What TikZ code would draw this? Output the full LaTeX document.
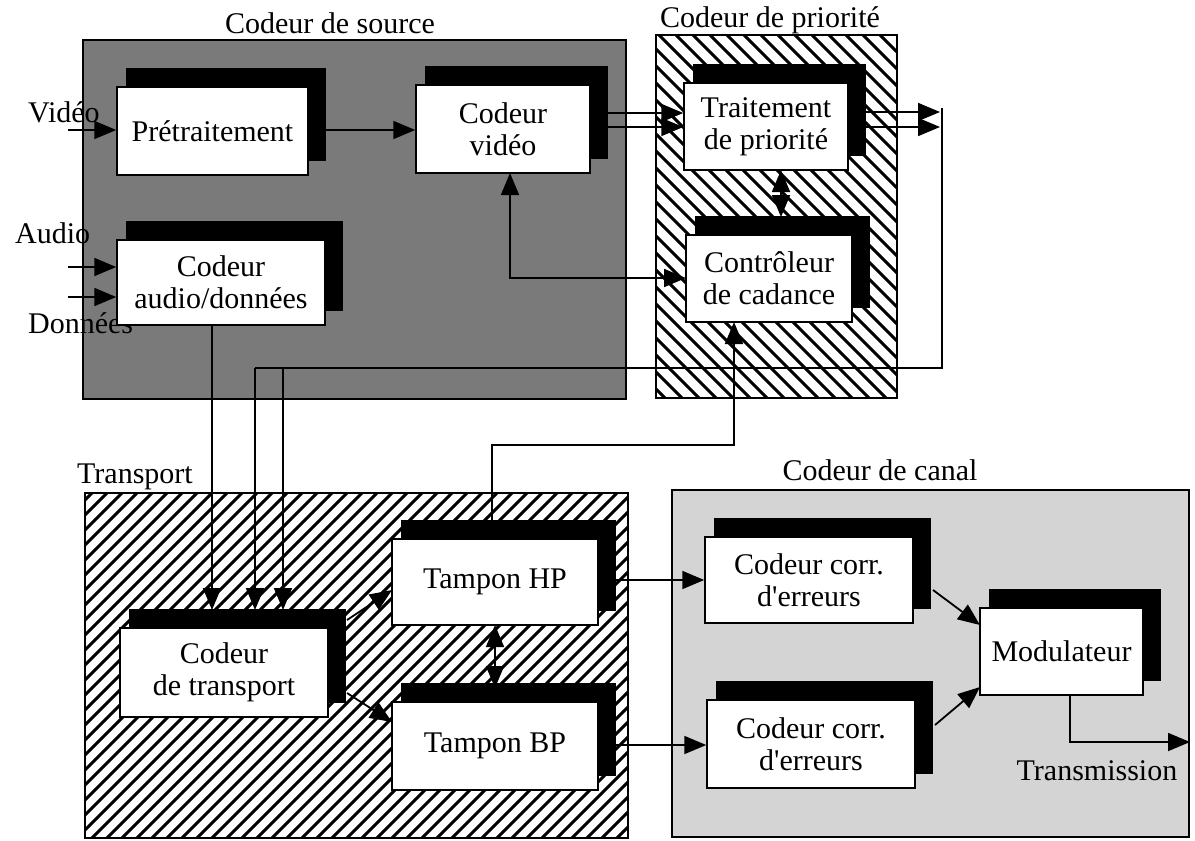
\documentclass[tikz,border=0pt]{standalone}
\usepackage{fontspec}
\setmainfont{Liberation Serif}
\usetikzlibrary{arrows.meta,calc}
\pgfdeclarelayer{bg}
\pgfdeclarelayer{sh}
\pgfsetlayers{bg,sh,main}
\begin{document}
\begin{tikzpicture}[x=1pt,y=-1pt,
  font=\fontsize{30}{32}\selectfont,
  blk/.style={draw=black, line width=1.5pt, fill=white, align=center, inner sep=0pt},
  arr/.style={line width=1.8pt, -{Triangle[length=22pt,width=18pt]}},
  darr/.style={line width=1.8pt, {Triangle[length=22pt,width=18pt]}-{Triangle[length=22pt,width=18pt]}},
  ln/.style={line width=1.8pt},
  outerbox/.style={draw=black, line width=2.5pt},
  hatchline/.style={line width=3pt},
  lbl/.style={inner sep=0pt}]
\useasboundingbox (0,0) rectangle (1195,841);

% ---------- outer regions ----------
\begin{pgfonlayer}{bg}
  \fill[black!52] (83,40) rectangle (626,399);
  \draw[outerbox] (83,40) rectangle (626,399);
  \fill[black!17] (672,490) rectangle (1189,837);
  \draw[outerbox] (672,490) rectangle (1189,837);
  \begin{scope}
    \clip (85,493) rectangle (628,838);
    \foreach \c in {570,585,...,1480} \draw[hatchline] ({\c-838},838) -- ({\c-493},493);
  \end{scope}
  \draw[outerbox] (85,493) rectangle (628,838);
  \begin{scope}
    \clip (656,35) rectangle (897,398);
    \foreach \c in {250,267,...,880} \draw[hatchline] ({\c+35},35) -- ({\c+398},398);
  \end{scope}
  \draw[outerbox] (656,35) rectangle (897,398);
\end{pgfonlayer}

% ---------- titles and labels ----------
\node[lbl, anchor=base] (tsrc) at (330,33) {Codeur de source};
\node[lbl, anchor=base] (tpri) at (770,27) {Codeur de priorité};
\node[lbl, anchor=base] (ttra) at (135,483) {Transport};
\node[lbl, anchor=base] (tcan) at (880,480) {Codeur de canal};
\node[lbl, anchor=base west] (lvid) at (28,122) {Vidéo};
\node[lbl, anchor=base west] (laud) at (15,243) {Audio};
\node[lbl, anchor=base west] (ldon) at (28,333) {Données};
\node[lbl, anchor=base] (ltrans) at (1097,780) {Transmission};

% ---------- blocks ----------
\node[blk, minimum width=191pt, minimum height=88pt] (pre) at (212.5,131) {Prétraitement};
\node[blk, minimum width=174pt, minimum height=88pt] (cv) at (503,129) {Codeur\\vidéo};
\node[blk, minimum width=208pt, minimum height=85pt] (cad) at (221,282.5) {Codeur\\audio/données};
\node[blk, minimum width=164pt, minimum height=87pt] (tp) at (766,126.5) {Traitement\\de priorité};
\node[blk, minimum width=166pt, minimum height=87pt] (cc) at (769,278.5) {Contrôleur\\de cadance};
\node[blk, minimum width=208pt, minimum height=89pt] (ct) at (224,672.5) {Codeur\\de transport};
\node[blk, minimum width=206pt, minimum height=86pt] (hp) at (495,582) {Tampon HP};
\node[blk, minimum width=206pt, minimum height=88pt] (bp) at (495,746) {Tampon BP};
\node[blk, minimum width=208pt, minimum height=86pt] (ec1) at (809,580) {Codeur corr.\\d\textquotesingle erreurs};
\node[blk, minimum width=208pt, minimum height=88pt] (ec2) at (811,744) {Codeur corr.\\d\textquotesingle erreurs};
\node[blk, minimum width=163pt, minimum height=87pt] (mod) at (1061.5,651.5) {Modulateur};

% ---------- shadows ----------
\begin{pgfonlayer}{sh}
  \foreach \n in {pre,cv,cad,tp,cc,ct,hp,bp,ec1,ec2,mod}
    \fill[black] ([shift={(10pt,15pt)}]\n.south west) rectangle ([shift={(17pt,18pt)}]\n.north east);
\end{pgfonlayer}

% ---------- coordinates ----------
\coordinate (vin) at (68,130);
\coordinate (ain) at (68,267);
\coordinate (din) at (68,297);
\coordinate (cvo1) at (596,113);
\coordinate (cvo2) at (596,127);
\coordinate (tpo1) at (866,112);
\coordinate (tpo2) at (866,127);
\coordinate (rt1) at (940,112);
\coordinate (rt2) at (940,127);
\coordinate (rtop) at (942,108);
\coordinate (rbot) at (942,368);
\coordinate (lb1) at (255,368);
\coordinate (lb2) at (283,368);
\coordinate (ctin1) at (212,610);
\coordinate (ctin2) at (255,610);
\coordinate (ctin3) at (283,610);
\coordinate (cvb) at (510,173);
\coordinate (cvc) at (510,278);
\coordinate (ccl) at (686,278);
\coordinate (tpb) at (781,170);
\coordinate (cct) at (781,217);
\coordinate (hpt) at (492,522);
\coordinate (hpu) at (492,445);
\coordinate (ccu) at (734,445);
\coordinate (ccb) at (734,322);
\coordinate (cto1) at (347,620);
\coordinate (hpi) at (392,590);
\coordinate (cto2) at (347,693);
\coordinate (bpi) at (392,722);
\coordinate (hpb) at (495,625);
\coordinate (bpt) at (495,688);
\coordinate (hpo) at (615,580);
\coordinate (bpo) at (615,745);
\coordinate (e1o) at (933,590);
\coordinate (m1) at (980,625);
\coordinate (e2o) at (935,725);
\coordinate (m2) at (980,687);
\coordinate (mb) at (1070,695);
\coordinate (mc) at (1070,742);
\coordinate (tx) at (1190,742);

% ---------- connectors ----------
\draw[arr] (vin) -- (vin -| pre.west);
\draw[arr] (ain) -- (ain -| cad.west);
\draw[arr] (din) -- (din -| cad.west);
\draw[arr] (pre.east |- vin) -- (cv.west |- vin);
\draw[arr] (cvo1) -- (cvo1 -| tp.west);
\draw[arr] (cvo2) -- (cvo2 -| tp.west);
\draw[arr] (tpo1) -- (rt1);
\draw[arr] (tpo2) -- (rt2);
\draw[ln] (rtop) -- (rbot) -- (lb1);
\draw[arr] (lb1) -- (ctin2);
\draw[arr] (lb2) -- (ctin3);
\draw[arr] (cad.south -| ctin1) -- (ctin1);
\draw[darr] (cvb) -- (cvc) -- (ccl);
\draw[darr] (tpb) -- (cct);
\draw[arr] (hpt) -- (hpu) -- (ccu) -- (ccb);
\draw[arr] (cto1) -- (hpi);
\draw[arr] (cto2) -- (bpi);
\draw[darr] (hpb) -- (bpt);
\draw[arr] (hpo) -- (hpo -| ec1.west);
\draw[arr] (bpo) -- (bpo -| ec2.west);
\draw[arr] (e1o) -- (m1);
\draw[arr] (e2o) -- (m2);
\draw[arr] (mb) -- (mc) -- (tx);
\end{tikzpicture}
\end{document}
